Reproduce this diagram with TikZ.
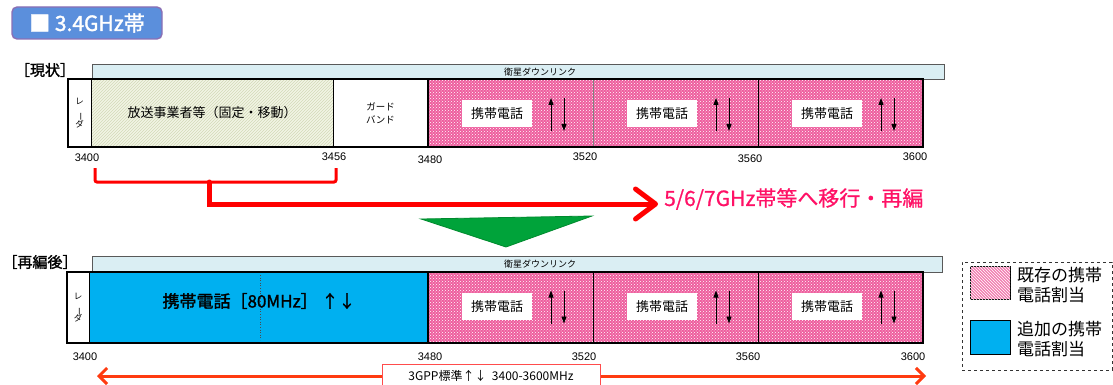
\documentclass[tikz,border=0pt]{standalone}
\usepackage{fontspec}
\setmainfont{Liberation Sans}
\newfontfamily\jp{Noto Sans CJK JP}
\newfontfamily\jpb{Noto Sans CJK JP}[FakeBold=1.6]
\newfontfamily\jpm{Noto Sans CJK JP}[FakeBold=0.8]
\usetikzlibrary{patterns,arrows.meta}
\definecolor{satfill}{HTML}{DAEEF3}
\definecolor{pinkbg}{HTML}{EE5E9E}
\definecolor{bluefill}{HTML}{00B0F0}
\definecolor{beige}{HTML}{F2F5E4}
\definecolor{hatchc}{HTML}{D3DAB8}
\definecolor{redline}{HTML}{FF0000}
\definecolor{magtext}{HTML}{FF1166}
\definecolor{orangered}{HTML}{FF3B10}
\definecolor{titlefill}{HTML}{5B8FDC}
\definecolor{titleborder}{HTML}{8A6FB5}
\definecolor{greenfill}{HTML}{00A33A}
\definecolor{greenedge}{HTML}{008A2E}
\newcommand\fsz[2]{\fontsize{#1}{#2}\selectfont}
\begin{document}
\begin{tikzpicture}[x=1pt,y=-1pt,
  reg/.style={anchor=north west, inner sep=0pt, outer sep=0pt},
  satbar/.style={reg, fill=satfill, draw=gray!70!black, line width=0.6pt},
  pinkreg/.style={reg, fill=pinkbg, postaction={pattern=crosshatch dots, pattern color=white}},
  whitereg/.style={reg, fill=white},
  beigereg/.style={reg, fill=beige, postaction={pattern=north east lines, pattern color=hatchc}},
  bluereg/.style={reg, fill=bluefill},
  mlabel/.style={fill=white, inner sep=0pt, minimum width=70pt, minimum height=27pt, font=\jp\fsz{13}{15}},
  updn/.style={line width=0.9pt, -{Triangle[width=5pt,length=7pt]}},
  num/.style={font=\fsz{11}{13}, inner sep=0pt},
  sattext/.style={font=\jp\fsz{9}{10}, inner sep=0pt},
  sect/.style={font=\jpb\fsz{15}{17}, inner sep=0pt},
  radar/.style={font=\jp\fsz{8.5}{10}, align=center, inner sep=0pt},
  divider/.style={line width=0.8pt},
  outline/.style={line width=2.6pt},
  legtext/.style={font=\jp\fsz{17}{20}, align=left, inner sep=0pt, anchor=west}
]
\useasboundingbox (0,0) rectangle (1113,385);

% title
\node[fill=titlefill, draw=titleborder, line width=1.4pt, rounded corners=5pt,
      minimum width=150pt, minimum height=32pt, inner sep=0pt, text=white,
      font=\jpb\fsz{21}{23}] (title) at (87,23) {■ 3.4GHz帯};

% ===== current =====
\node[sect] (cur) at (45,70) {［現状］};
\node[satbar, minimum width=852pt, minimum height=15pt] (tsat) at (92,64) {};
\node[sattext] (tsatt) at (540,72) {衛星ダウンリンク};
\node[whitereg, minimum width=23pt, minimum height=68pt] (tr) at (68,79) {};
\node[beigereg, minimum width=242pt, minimum height=68pt] (tb) at (91,79) {};
\node[whitereg, minimum width=95pt, minimum height=68pt] (tg) at (333,79) {};
\foreach \i/\x in {1/428,2/593,3/758}
  \node[pinkreg, minimum width=165pt, minimum height=68pt] (tp\i) at (\x,79) {};
\draw[divider] (tb.north west) -- (tb.south west);
\draw[divider] (tg.north west) -- (tg.south west);
\draw[divider, line width=1.4pt] (tp1.north west) -- (tp1.south west);
\draw[divider, gray] (tp2.north west) -- (tp2.south west);
\draw[divider] (tp3.north west) -- (tp3.south west);
\draw[outline] (tr.north west) rectangle (tp3.south east);
\node[radar] (trt) at (tr.center) {レ\\[-2pt]\rotatebox{-90}{ー}\\[-2pt]ダ};
\node[font=\jp\fsz{13}{15}, inner sep=0pt] (tbt) at (tb.center) {放送事業者等（固定・移動）};
\node[font=\jp\fsz{9.5}{13}, align=center, inner sep=0pt] (tgt) at (tg.center) {ガード\\バンド};
\foreach \i in {1,2,3}{
  \node[mlabel] (tm\i) at ([xshift=69pt,yshift=-1pt]tp\i.west) {携帯電話};
  \draw[updn] ([xshift=123pt,yshift=-18pt]tp\i.west) -- ([xshift=123pt,yshift=15pt]tp\i.west);
  \draw[updn] ([xshift=136pt,yshift=15pt]tp\i.west) -- ([xshift=136pt,yshift=-18pt]tp\i.west);
}
\node[num] (n1) at (87,158) {3400};
\node[num] (n2) at (334,157) {3456};
\node[num] (n3) at (430,160) {3480};
\node[num] (n4) at (585,157) {3520};
\node[num] (n5) at (750,159) {3560};
\node[num] (n6) at (915,157) {3600};

% red bracket and arrow
\coordinate (bl) at (95,168);
\coordinate (br) at (336,168);
\coordinate (bm) at (209,182);
\coordinate (tip) at (658,204);
\draw[redline, line width=3pt, rounded corners=2pt] (bl) -- (95,182) -- (336,182) -- (br);
\draw[redline, line width=5pt, line cap=round, -{Straight Barb[length=20pt,width=30pt,round]}] (bm) |- (tip);
\node[font=\jpm\fsz{21}{23}, text=magtext, anchor=west, inner sep=0pt] (mig) at (664,199) {5/6/7GHz帯等へ移行・再編};

% green triangle
\coordinate (g1) at (421,219);
\coordinate (g2) at (592,216);
\coordinate (g3) at (506,247);
\filldraw[fill=greenfill, draw=greenedge, line width=0.8pt] (g1) -- (g2) -- (g3) -- cycle;

% ===== after =====
\node[sect] (aft) at (40,262) {［再編後］};
\node[satbar, minimum width=850pt, minimum height=16pt] (bsat) at (92,256) {};
\node[sattext] (bsatt) at (540,264) {衛星ダウンリンク};
\node[whitereg, minimum width=22pt, minimum height=71pt] (br0) at (67,272) {};
\node[bluereg, minimum width=339pt, minimum height=71pt] (bb) at (89,272) {};
\foreach \i/\x in {1/428,2/593,3/758}
  \node[pinkreg, minimum width=165pt, minimum height=71pt] (bp\i) at (\x,272) {};
\draw[divider] (bb.north west) -- (bb.south west);
\draw[divider, line width=1.4pt] (bp1.north west) -- (bp1.south west);
\draw[divider] (bp2.north west) -- (bp2.south west);
\draw[divider] (bp3.north west) -- (bp3.south west);
\draw[gray!60!black, dotted, line width=0.6pt] ([yshift=-3pt]bb.north west -| 260,0) -- ([yshift=3pt]bb.south west -| 260,0);
\draw[outline] (br0.north west) rectangle (bp3.south east);
\node[radar] (brt) at (br0.center) {レ\\[-2pt]\rotatebox{-90}{ー}\\[-2pt]ダ};
\node[font=\jpb\fsz{17}{19}, inner sep=0pt] (bbt) at (259,301) {携帯電話［80MHz］ ↑↓};
\foreach \i in {1,2,3}{
  \node[mlabel] (bm\i) at ([xshift=69pt,yshift=1pt]bp\i.west) {携帯電話};
  \draw[updn] ([xshift=123pt,yshift=-16pt]bp\i.west) -- ([xshift=123pt,yshift=17pt]bp\i.west);
  \draw[updn] ([xshift=136pt,yshift=17pt]bp\i.west) -- ([xshift=136pt,yshift=-16pt]bp\i.west);
}
\node[num] (m1) at (85,357) {3400};
\node[num] (m3) at (430,357) {3480};
\node[num] (m4) at (584,357) {3520};
\node[num] (m5) at (748,357) {3560};
\node[num] (m6) at (913,357) {3600};

% 3GPP arrow
\coordinate (al) at (97,376);
\coordinate (ar) at (926,376);
\draw[orangered, line width=3pt, {Straight Barb[length=8pt,width=16pt]}-{Straight Barb[length=8pt,width=16pt]}] (al) -- (ar);
\node[fill=white, draw=red!70, line width=0.8pt, minimum width=218pt, minimum height=24pt, inner sep=0pt,
      font=\jp\fsz{12}{14}] (gpp) at (491,376) {3GPP標準↑↓\ \ 3400-3600MHz};

% legend
\node[reg, draw=black!80, dashed, line width=0.9pt, minimum width=150pt, minimum height=108pt] (leg) at (962,262) {};
\node[reg, fill=pinkbg!80!white, postaction={pattern=north west lines, pattern color=white}, draw=black, line width=0.8pt,
      minimum width=40pt, minimum height=33pt] (ls1) at (970,266) {};
\node[reg, fill=bluefill, draw=black, line width=0.8pt, minimum width=40pt, minimum height=34pt] (ls2) at (970,320) {};
\node[legtext] (lt1) at (1017,285) {既存の携帯\\電話割当};
\node[legtext] (lt2) at (1017,339) {追加の携帯\\電話割当};
\end{tikzpicture}
\end{document}
